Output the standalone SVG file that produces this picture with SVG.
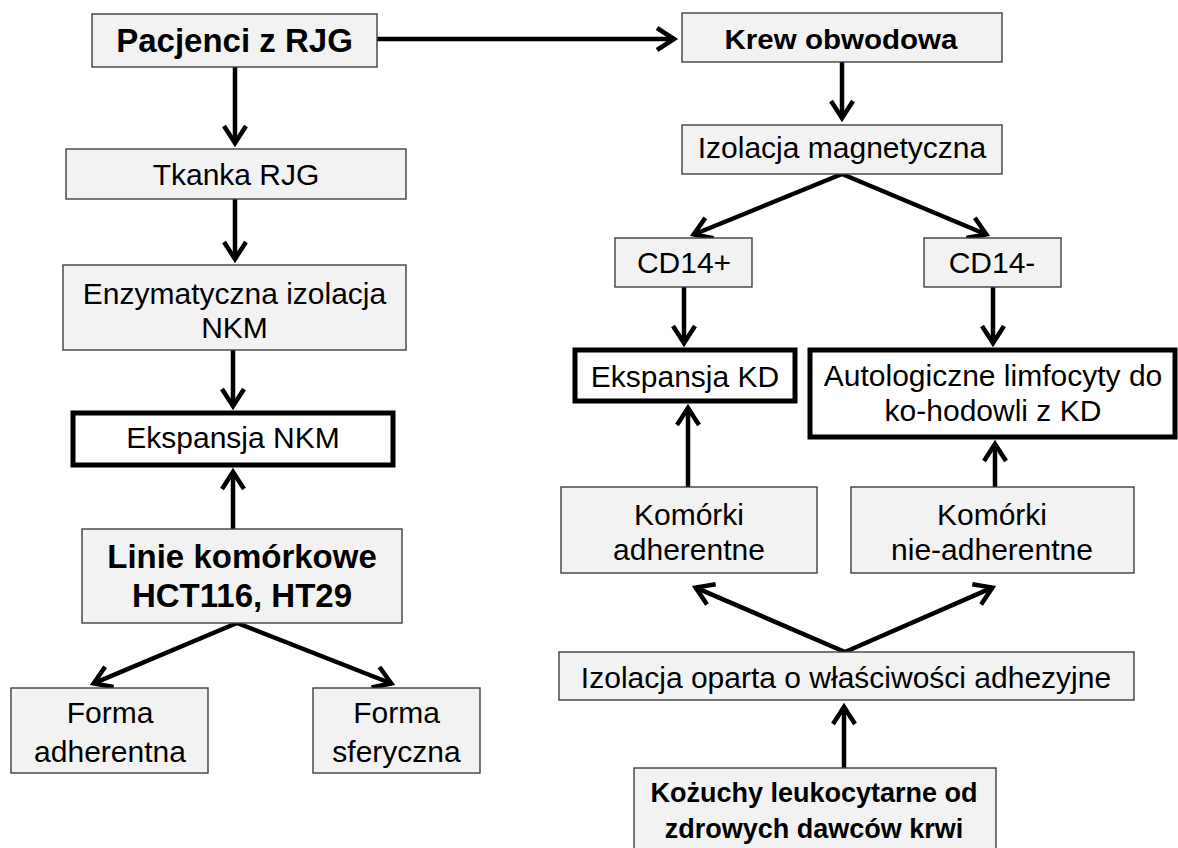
<svg xmlns="http://www.w3.org/2000/svg" width="1178" height="848" viewBox="0 0 1178 848">
<style>
.box{fill:#f2f2f2;stroke:#3f3f3f;stroke-width:1.4}
.thick{fill:#ffffff;stroke:#000000;stroke-width:5}
.t{font-family:"Liberation Sans",Arial,sans-serif;font-size:30px;fill:#000;text-anchor:middle}
.b{font-family:"Liberation Sans",Arial,sans-serif;font-weight:bold;fill:#000;text-anchor:middle}
.c{fill:none;stroke:#000;stroke-width:4.5;marker-end:url(#ah)}
</style>
<defs>
<marker id="ah" markerUnits="userSpaceOnUse" viewBox="-24 -16 32 32" refX="0" refY="0" markerWidth="32" markerHeight="32" orient="auto" overflow="visible">
<path d="M-17,-11 L0,0 L-17,11" fill="none" stroke="#000" stroke-width="4.5"/>
</marker>
</defs>
<rect width="1178" height="848" fill="#ffffff"/>
<g id="connectors">
<path class="c" d="M377,39 L674,39"/>
<path class="c" d="M235,67 L235,143"/>
<path class="c" d="M235,199 L235,259"/>
<path class="c" d="M233,350 L233,406"/>
<path class="c" d="M233,529 L233,472"/>
<path class="c" d="M237,623 L93.7,683.4"/>
<path class="c" d="M237,623 L391.3,683.5"/>
<path class="c" d="M842,62 L842,118"/>
<path class="c" d="M842,174 L693.7,234.5"/>
<path class="c" d="M842,174 L986.3,234.5"/>
<path class="c" d="M684,287 L684,343"/>
<path class="c" d="M993,287 L993,343"/>
<path class="c" d="M688,487 L688,408"/>
<path class="c" d="M995,487 L995,444"/>
<path class="c" d="M845,652 L695.7,587.6"/>
<path class="c" d="M845,652 L992.3,587.6"/>
<path class="c" d="M844,768 L844,707"/>
</g>
<g id="pacjenci"><rect class="box" x="92" y="14" width="285" height="53"/><text class="b" x="234.5" y="52" font-size="33">Pacjenci z RJG</text></g>
<g id="krew"><rect class="box" x="682" y="13" width="320" height="49"/><text class="b" x="841" y="49" font-size="27" textLength="233" lengthAdjust="spacingAndGlyphs">Krew obwodowa</text></g>
<g id="tkanka"><rect class="box" x="66" y="149" width="340" height="50"/><text class="t" x="236" y="185">Tkanka RJG</text></g>
<g id="izolacja-mag"><rect class="box" x="682" y="125" width="320" height="49"/><text class="t" x="842" y="158">Izolacja magnetyczna</text></g>
<g id="enzymatyczna"><rect class="box" x="63" y="265" width="343" height="85"/><text class="t" x="234.5" y="304">Enzymatyczna izolacja</text><text class="t" x="234.5" y="338">NKM</text></g>
<g id="ekspansja-nkm"><rect class="thick" x="73" y="413" width="320" height="52"/><text class="t" x="233" y="448">Ekspansja NKM</text></g>
<g id="linie"><rect class="box" x="82" y="529" width="320" height="94"/><text class="b" x="242" y="568" font-size="33">Linie komórkowe</text><text class="b" x="242" y="607" font-size="33">HCT116, HT29</text></g>
<g id="forma-adh"><rect class="box" x="11" y="688" width="197" height="85"/><text class="t" x="110" y="723">Forma</text><text class="t" x="110" y="762">adherentna</text></g>
<g id="forma-sfer"><rect class="box" x="313" y="688" width="167" height="85"/><text class="t" x="396.5" y="723">Forma</text><text class="t" x="396.5" y="762">sferyczna</text></g>
<g id="cd14plus"><rect class="box" x="615" y="238" width="137" height="49"/><text class="t" x="684" y="273">CD14+</text></g>
<g id="cd14minus"><rect class="box" x="924" y="238" width="137" height="49"/><text class="t" x="992" y="273">CD14-</text></g>
<g id="ekspansja-kd"><rect class="thick" x="575" y="350" width="220" height="51"/><text class="t" x="685" y="387">Ekspansja KD</text></g>
<g id="autologiczne"><rect class="thick" x="810" y="350" width="365" height="87"/><text class="t" x="993" y="386">Autologiczne limfocyty do</text><text class="t" x="993" y="421">ko-hodowli z KD</text></g>
<g id="komorki-adh"><rect class="box" x="561" y="487" width="256" height="86"/><text class="t" x="689" y="525">Komórki</text><text class="t" x="689" y="560">adherentne</text></g>
<g id="komorki-nie"><rect class="box" x="851" y="487" width="283" height="86"/><text class="t" x="992" y="525">Komórki</text><text class="t" x="992" y="560">nie-adherentne</text></g>
<g id="izolacja-adh"><rect class="box" x="559" y="652" width="575" height="48"/><text class="t" x="846" y="688">Izolacja oparta o właściwości adhezyjne</text></g>
<g id="kozuchy"><rect class="box" x="634" y="768" width="362" height="90"/><text class="b" x="814" y="802" font-size="27">Kożuchy leukocytarne od</text><text class="b" x="814" y="838" font-size="27">zdrowych dawców krwi</text></g>
</svg>
